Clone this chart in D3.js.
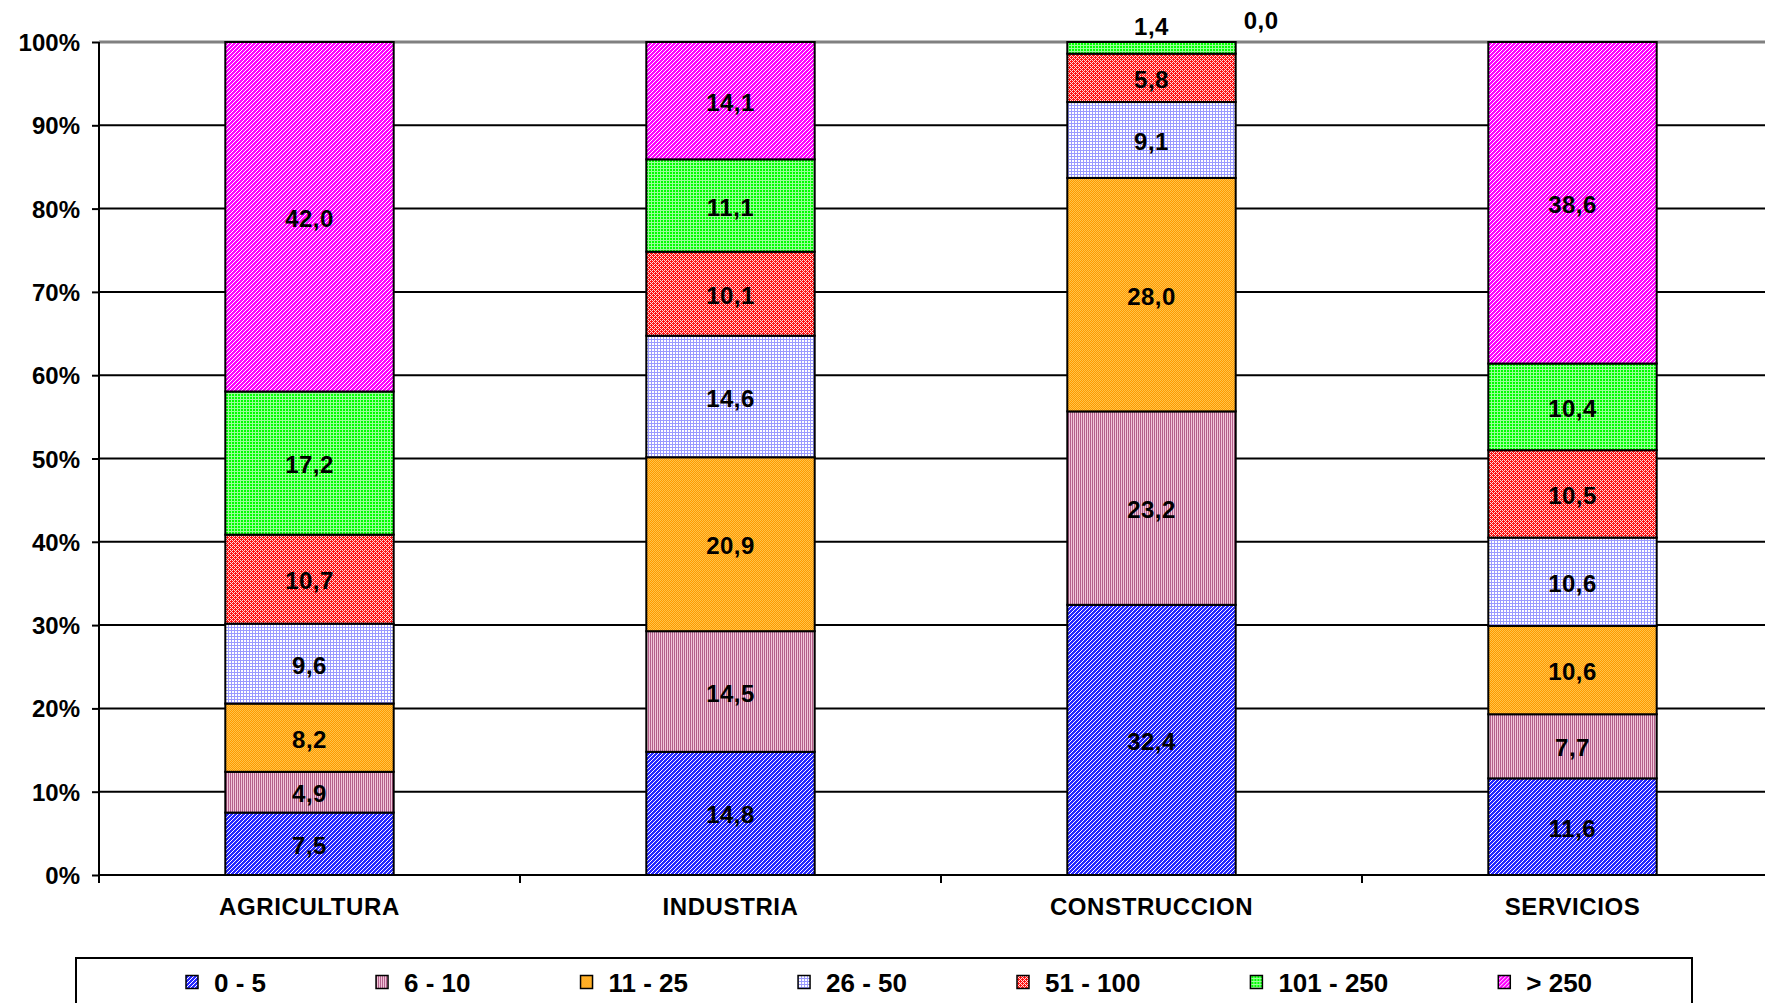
<!DOCTYPE html>
<html>
<head>
<meta charset="utf-8">
<script src="https://cdn.jsdelivr.net/npm/d3@7"></script>
<style>
  html, body { margin: 0; padding: 0; background: #fff; overflow: hidden; }
  svg { display: block; font-family: "Liberation Sans", Arial, sans-serif; font-weight: bold; }
</style>
</head>
<body>
<svg id="chart" width="1765" height="1003"></svg>
<script>
// ---- data ----
const categories = ["AGRICULTURA", "INDUSTRIA", "CONSTRUCCION", "SERVICIOS"];
const seriesNames = ["0 - 5", "6 - 10", "11 - 25", "26 - 50", "51 - 100", "101 - 250", "> 250"];
const s0_5     = [7.5, 14.8, 32.4, 11.6];
const s6_10    = [4.9, 14.5, 23.2, 7.7];
const s11_25   = [8.2, 20.9, 28.0, 10.6];
const s26_50   = [9.6, 14.6, 9.1, 10.6];
const s51_100  = [10.7, 10.1, 5.8, 10.5];
const s101_250 = [17.2, 11.1, 1.4, 10.4];
const s250     = [42.0, 14.1, 0.0, 38.6];
const seriesValues = [s0_5, s6_10, s11_25, s26_50, s51_100, s101_250, s250];
const yTickValues = [0, 0.1, 0.2, 0.3, 0.4, 0.5, 0.6, 0.7, 0.8, 0.9, 1.0];

const rows = categories.map((c, i) => {
  const r = { cat: c };
  seriesNames.forEach((s, j) => r[s] = seriesValues[j][i]);
  return r;
});

const svg = d3.select("#chart");
const defs = svg.append("defs");

// ---- fill patterns ----
function pixelPattern(id, size, base, pixels, pixColor, opacity) {
  const p = defs.append("pattern").attr("id", id).attr("patternUnits", "userSpaceOnUse")
    .attr("width", size).attr("height", size);
  p.append("rect").attr("width", size).attr("height", size).attr("fill", base);
  pixels.forEach(([px, py]) => p.append("rect").attr("x", px).attr("y", py).attr("width", 1).attr("height", 1)
    .attr("fill", pixColor).attr("fill-opacity", opacity == null ? 1 : opacity));
}
pixelPattern("p0", 4, "#2828ff", [[3,0],[2,1],[1,2],[0,3]], "#ffffff");
(function(){
  const p = defs.append("pattern").attr("id", "p1").attr("patternUnits", "userSpaceOnUse").attr("width", 2).attr("height", 2);
  p.append("rect").attr("width", 2).attr("height", 2).attr("fill", "#f2c6da");
  p.append("rect").attr("width", 1).attr("height", 2).attr("fill", "#b35f8a");
})();
pixelPattern("p2", 2, "#ff9900", [[0,0],[1,1]], "#ffc44a");
pixelPattern("p3", 3, "#ffffff", [[0,0],[1,0],[2,0],[0,1],[0,2]], "#9a9aff");
pixelPattern("p4", 4, "#ff1010", [[0,0],[1,1],[2,2],[3,3],[2,0],[0,2]], "#ffffff", 0.85);
pixelPattern("p5", 3, "#00ff00", [[0,0],[1,0],[2,0],[0,1],[0,2]], "#ffffff", 0.6);
pixelPattern("p6", 4, "#ff00ff", [[3,0],[2,1],[1,2],[0,3]], "#ffffff");

const fillFor = d3.scaleOrdinal().domain(seriesNames).range(seriesNames.map((s, i) => `url(#p${i})`));

// ---- scales ----
const x = d3.scaleBand().domain(categories).range([99, 1783]).paddingInner(0.6).paddingOuter(0.3);
const y = d3.scaleLinear().domain([0, 1]).range([875, 42]);
const plotLeft = 99, plotRight = 1783;

// ---- gridlines ----
svg.append("g").selectAll("line").data(yTickValues.filter(v => v > 0 && v < 1)).join("line")
  .attr("x1", plotLeft).attr("x2", plotRight)
  .attr("y1", d => y(d)).attr("y2", d => y(d))
  .attr("stroke", "#000").attr("stroke-width", 2);
svg.append("line").attr("x1", plotLeft).attr("x2", plotRight).attr("y1", y(1)).attr("y2", y(1))
  .attr("stroke", "#808080").attr("stroke-width", 3);

// ---- bars ----
const stack = d3.stack().keys(seriesNames).offset(d3.stackOffsetExpand);
const stacked = stack(rows);

const layers = svg.append("g").selectAll("g").data(stacked).join("g")
  .attr("fill", d => fillFor(d.key));
layers.selectAll("rect").data(d => d).join("rect")
  .attr("x", d => x(d.data.cat))
  .attr("width", x.bandwidth())
  .attr("y", d => y(d[1]))
  .attr("height", d => Math.max(0, y(d[0]) - y(d[1])))
  .attr("stroke", "#000").attr("stroke-width", 2);

// ---- value labels ----
const fmt = v => v.toFixed(1).replace(".", ",");
const labels = [];
stacked.forEach((layer, si) => {
  layer.forEach((d, ci) => labels.push({ v: seriesValues[si][ci], d }));
});
svg.append("g").selectAll("text").data(labels).join("text")
  .attr("font-size", 24).attr("letter-spacing", 0.5).attr("fill", "#000")
  .attr("text-anchor", d => d.v === 0 ? "start" : "middle")
  .attr("x", d => {
    const cx = x(d.d.data.cat) + x.bandwidth() / 2;
    return d.v === 0 ? x(d.d.data.cat) + x.bandwidth() + 8 : cx;
  })
  .attr("y", d => {
    if (d.v === 0) return y(1) - 13;
    if (d.v < 2) return y(d.d[1]) - 7;
    return (y(d.d[0]) + y(d.d[1])) / 2 + 10;
  })
  .text(d => fmt(d.v));

// ---- y axis ----
const yAxis = d3.axisLeft(y).tickValues(yTickValues).tickFormat(d => Math.round(d * 100) + "%").tickSize(7).tickPadding(12);
const gy = svg.append("g").attr("transform", `translate(${plotLeft},0)`).call(yAxis);
gy.select(".domain").attr("stroke", "#000").attr("stroke-width", 2).attr("d", `M0,${y(1)}V${y(0)}`);
gy.selectAll(".tick line").attr("stroke", "#000").attr("stroke-width", 2);
gy.selectAll(".tick text").attr("font-size", 24).attr("font-weight", "bold")
  .attr("font-family", "'Liberation Sans', Arial, sans-serif").attr("fill", "#000")
  .attr("dy", null).attr("y", 8.5);

// ---- x axis ----
const xAxis = d3.axisBottom(x).tickSize(0).tickPadding(0);
const gx = svg.append("g").attr("transform", `translate(0,${y(0)})`).call(xAxis);
gx.select(".domain").attr("stroke", "#000").attr("stroke-width", 2).attr("d", `M${plotLeft},0H${plotRight}`);
gx.selectAll(".tick text").attr("font-size", 24).attr("font-weight", "bold").attr("letter-spacing", 0.6)
  .attr("font-family", "'Liberation Sans', Arial, sans-serif").attr("fill", "#000")
  .attr("dy", null).attr("y", 39.5);
const boundaries = d3.range(categories.length + 1).map(i => plotLeft + i * x.step());
gx.append("g").selectAll("line").data(boundaries).join("line")
  .attr("x1", d => d).attr("x2", d => d).attr("y1", 0).attr("y2", 8)
  .attr("stroke", "#000").attr("stroke-width", 2);

// ---- legend ----
const legendBox = { x: 76, y: 958, w: 1616, h: 70 };
svg.append("rect").attr("x", legendBox.x).attr("y", legendBox.y).attr("width", legendBox.w).attr("height", legendBox.h)
  .attr("fill", "#fff").attr("stroke", "#000").attr("stroke-width", 2);
const lg = svg.append("g");
const items = lg.selectAll("g").data(seriesNames).join("g");
items.append("rect").attr("width", 12).attr("height", 13).attr("y", 975.5)
  .attr("fill", d => fillFor(d)).attr("stroke", "#000").attr("stroke-width", 1.5);
items.append("text").attr("font-size", 26).attr("x", 28).attr("y", 991.5)
  .attr("fill", "#000").text(d => d);
let cursor = 0;
const offsets = [];
items.each(function(d, i) {
  const tw = this.querySelector("text").getComputedTextLength();
  offsets.push(cursor);
  cursor += 28 + tw + (i < seriesNames.length - 1 ? 110 : 0);
});
const startX = legendBox.x + 110;
items.attr("transform", (d, i) => `translate(${startX + offsets[i]},0)`);
</script>
</body>
</html>
